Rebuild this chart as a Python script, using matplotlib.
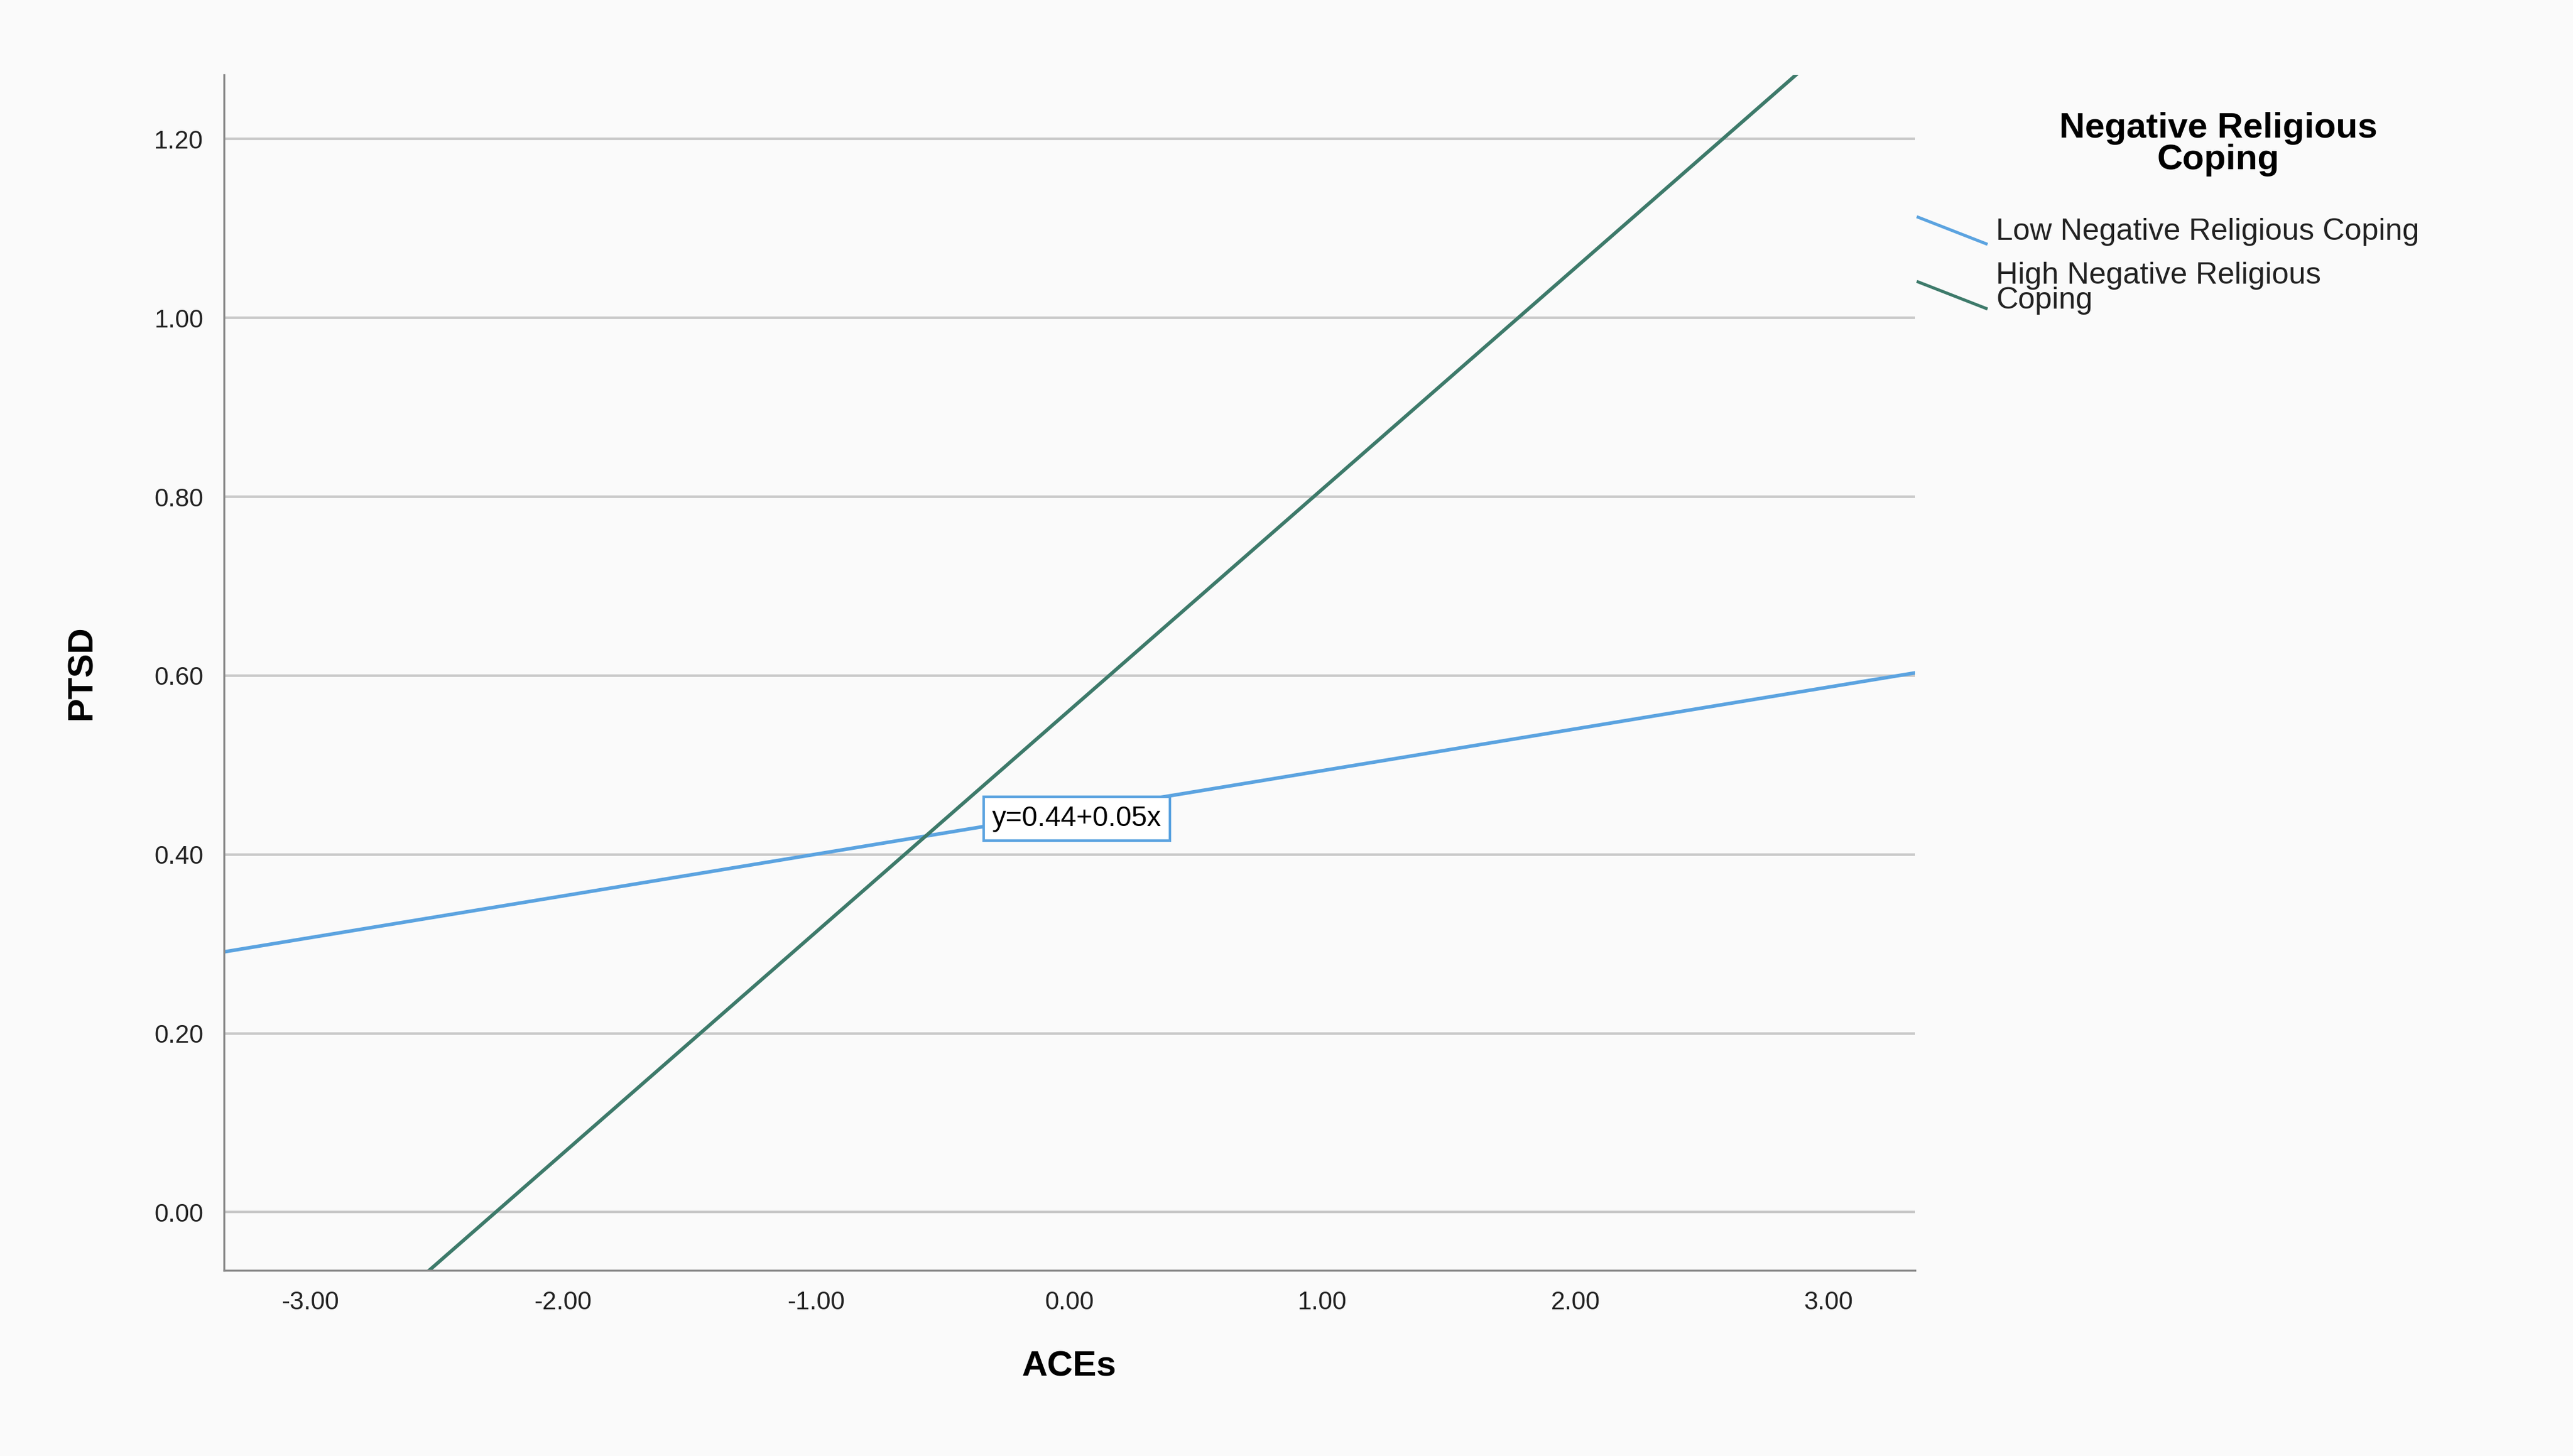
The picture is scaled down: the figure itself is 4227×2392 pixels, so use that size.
import matplotlib
matplotlib.use("Agg")
import matplotlib.pyplot as plt
from matplotlib.lines import Line2D

plt.rcParams['font.family'] = ['Liberation Sans', 'DejaVu Sans']

x_range = [-3.34, 3.34]
low_y = [0.291, 0.603]
high_int, high_slope = 0.561, 0.2476
xticks = [-3, -2, -1, 0, 1, 2, 3]
yticks = [0.0, 0.2, 0.4, 0.6, 0.8, 1.0, 1.2]
series_names = ["Low Negative Religious Coping", "High Negative Religious\nCoping"]
colors = ["#5ba3e0", "#3d7a6a"]

W, H = 1552, 878
fig = plt.figure(figsize=(4227/300, 2392/300), dpi=300, facecolor="#fafafa")
ax = fig.add_axes([135/W, 1-766/H, (1155-135)/W, (766-45)/H])
ax.set_facecolor("#fafafa")
ax.plot(x_range, low_y, color=colors[0], lw=1.4)
ax.plot(x_range, [high_int+high_slope*v for v in x_range], color=colors[1], lw=1.4)
ax.set_xlim(x_range)
ax.set_ylim(-0.065, 1.272)
ax.set_xticks(xticks, [f"{v:.2f}" for v in xticks])
ax.set_yticks(yticks, [f"{v:.2f}" for v in yticks])
ax.tick_params(length=0, labelsize=10, colors="#222222", pad=8)
ax.yaxis.grid(True, color="#c8c8c8", lw=1)
for s in ["top", "right"]:
    ax.spines[s].set_visible(False)
for s in ["left", "bottom"]:
    ax.spines[s].set_color("#888888")
ax.set_xlabel("ACEs", fontsize=14, fontweight="bold", labelpad=14)
ax.set_ylabel("PTSD", fontsize=14, fontweight="bold", labelpad=22)
ax.text(0.03, 0.44, "y=0.44+0.05x", fontsize=11, ha="center", va="center",
        bbox=dict(boxstyle="square,pad=0.3", fc="white", ec=colors[0], lw=1))

fig.text(1338/W, 1-87/H, "Negative Religious\nCoping", ha="center", va="center",
         fontsize=14, fontweight="bold", linespacing=0.95)
for i, (name, c) in enumerate(zip(series_names, colors)):
    y0 = [131, 170][i]
    fig.add_artist(Line2D([1157/W, 1198/W], [1-y0/H, 1-(y0+16)/H], color=c, lw=1.2))
    fig.text(1204/W, 1-(y0+9)/H if i == 0 else 1-158/H, name, ha="left",
             va="center" if i == 0 else "top",
             fontsize=12, linespacing=0.85, color="#222222")
fig.savefig("out.png", dpi=300, facecolor=fig.get_facecolor())
